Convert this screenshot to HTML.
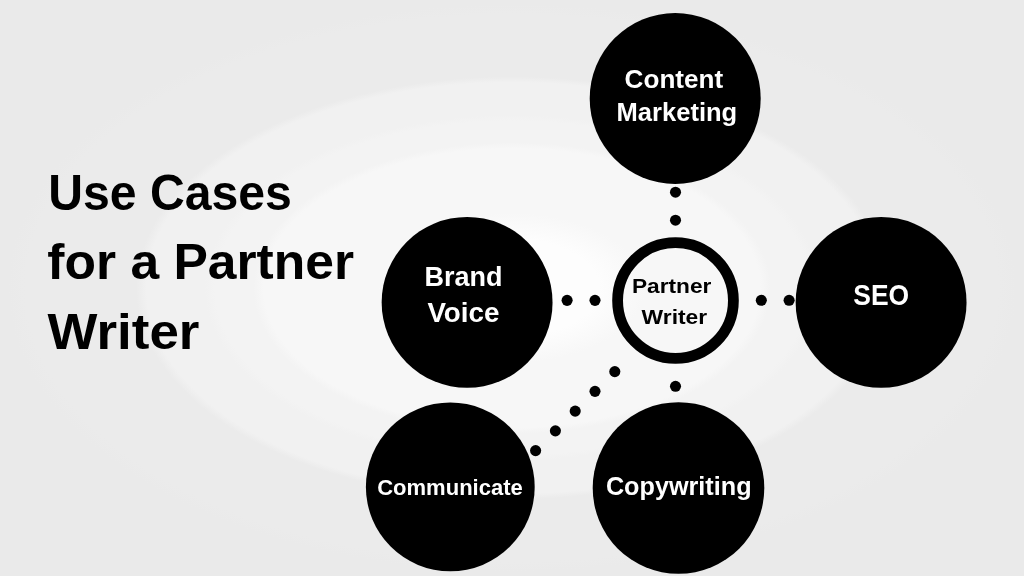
<!DOCTYPE html>
<html>
<head>
<meta charset="utf-8">
<title>Use Cases for a Partner Writer</title>
<style>
html,body{margin:0;padding:0;width:1024px;height:576px;overflow:hidden;background:#eaeaea;}
svg{display:block;position:absolute;left:0;top:0;will-change:transform;}
text{font-family:"Liberation Sans",sans-serif;font-weight:bold;}
.w{fill:#fff;}
.k{fill:#000;}
</style>
</head>
<body>
<svg width="1024" height="576" viewBox="0 0 1024 576">
  <defs>
    <radialGradient id="bg" gradientUnits="userSpaceOnUse" cx="0" cy="0" r="1" gradientTransform="translate(512 288) scale(1024 576)">
      <stop offset="0.0000" stop-color="#fdfdfd"/>
      <stop offset="0.0850" stop-color="#fdfdfd"/>
      <stop offset="0.1300" stop-color="#f7f7f7"/>
      <stop offset="0.2425" stop-color="#f7f7f7"/>
      <stop offset="0.2525" stop-color="#f3f3f3"/>
      <stop offset="0.2900" stop-color="#f3f3f3"/>
      <stop offset="0.3000" stop-color="#f1f1f1"/>
      <stop offset="0.3570" stop-color="#f1f1f1"/>
      <stop offset="0.3670" stop-color="#ebebeb"/>
      <stop offset="0.4750" stop-color="#ebebeb"/>
      <stop offset="0.4925" stop-color="#eaeaea"/>
      <stop offset="1.0000" stop-color="#eaeaea"/>
    </radialGradient>
  </defs>
  <rect x="0" y="0" width="1024" height="576" fill="#eaeaea"/>
  <rect x="0" y="0" width="1024" height="576" fill="url(#bg)"/>

  <!-- satellite circles -->
  <circle cx="675.2" cy="98.5" r="85.5" fill="#000"/>
  <circle cx="467.1" cy="302.4" r="85.45" fill="#000"/>
  <circle cx="881.1" cy="302.4" r="85.45" fill="#000"/>
  <circle cx="450.3" cy="486.9" r="84.4" fill="#000"/>
  <circle cx="678.5" cy="488" r="85.8" fill="#000"/>

  <!-- centre ring -->
  <circle cx="675.5" cy="300.5" r="57.9" fill="none" stroke="#000" stroke-width="10.8"/>

  <!-- dots -->
  <g fill="#000">
    <circle cx="675.5" cy="192.2" r="5.55"/>
    <circle cx="675.5" cy="220.2" r="5.55"/>
    <circle cx="567.1" cy="300.35" r="5.55"/>
    <circle cx="595" cy="300.35" r="5.55"/>
    <circle cx="761.3" cy="300.3" r="5.55"/>
    <circle cx="789.1" cy="300.3" r="5.55"/>
    <circle cx="675.5" cy="386.3" r="5.55"/>
    <circle cx="614.8" cy="371.6" r="5.55"/>
    <circle cx="595" cy="391.35" r="5.55"/>
    <circle cx="575.2" cy="411.1" r="5.55"/>
    <circle cx="555.4" cy="430.85" r="5.55"/>
    <circle cx="535.6" cy="450.6" r="5.55"/>
  </g>

  <!-- labels -->
  <g id="txt">
  <text class="w" x="624.6" y="87.6" font-size="25.2" textLength="98.6" lengthAdjust="spacingAndGlyphs">Content</text>
  <text class="w" x="616.6" y="121" font-size="25.2" textLength="120.6" lengthAdjust="spacingAndGlyphs">Marketing</text>
  <text class="w" x="424.6" y="285.5" font-size="27.4" textLength="78" lengthAdjust="spacingAndGlyphs">Brand</text>
  <text class="w" x="427.4" y="322.4" font-size="27.4" textLength="72" lengthAdjust="spacingAndGlyphs">Voice</text>
  <text class="k" x="631.9" y="293" font-size="20.6" textLength="79.5" lengthAdjust="spacingAndGlyphs">Partner</text>
  <text class="k" x="641.6" y="323.9" font-size="20.6" textLength="65.6" lengthAdjust="spacingAndGlyphs">Writer</text>
  <text class="w" x="853.3" y="305.2" font-size="30" textLength="55.8" lengthAdjust="spacingAndGlyphs">SEO</text>
  <text class="w" x="377.2" y="495.2" font-size="22" textLength="145.6" lengthAdjust="spacingAndGlyphs">Communicate</text>
  <text class="w" x="605.9" y="494.5" font-size="26.5" textLength="145.7" lengthAdjust="spacingAndGlyphs">Copywriting</text>

  <!-- title -->
  <text class="k" x="48.2" y="209.6" font-size="49.5" textLength="243.6" lengthAdjust="spacingAndGlyphs">Use Cases</text>
  <text class="k" x="47.3" y="279.2" font-size="49.5" textLength="306.8" lengthAdjust="spacingAndGlyphs">for a Partner</text>
  <text class="k" x="47.6" y="348.9" font-size="49.5" textLength="151.8" lengthAdjust="spacingAndGlyphs">Writer</text>
  </g>
</svg>
</body>
</html>
